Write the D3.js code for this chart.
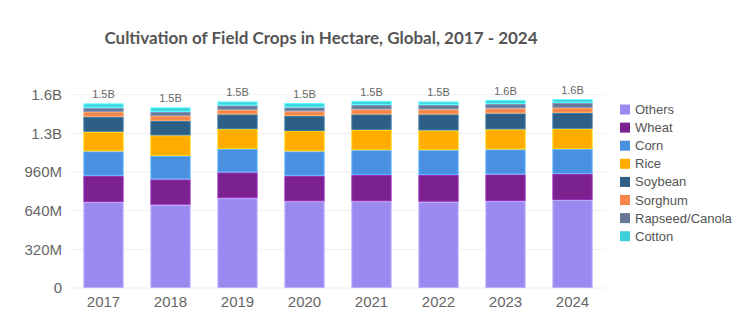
<!DOCTYPE html>
<html>
<head>
<meta charset="utf-8">
<script src="https://cdn.jsdelivr.net/npm/d3@7"></script>
<style>
  body { margin: 0; background: #fff; }
  svg text { font-family: "Liberation Sans", Arial, sans-serif; }
</style>
</head>
<body>
<div id="chart"></div>
<script>
// hectares by crop, one array per series (values in hectares)
const years = ["2017", "2018", "2019", "2020", "2021", "2022", "2023", "2024"];
const crops = ["Others", "Wheat", "Corn", "Rice", "Soybean", "Sorghum", "Rapseed/Canola", "Cotton"];
const colors = ["#9a8aef", "#7b2290", "#4a90e0", "#ffab00", "#2d5f86", "#f5844a", "#687797", "#3fd0da"];

const others   = [711e6, 689e6, 744e6, 717e6, 717e6, 714e6, 720e6, 728e6];
const wheat    = [218e6, 210e6, 213e6, 212e6, 218e6, 221e6, 220e6, 217e6];
const corn     = [202e6, 195e6, 195e6, 202e6, 206e6, 206e6, 207e6, 205e6];
const rice     = [162e6, 169e6, 163e6, 168e6, 168e6, 163e6, 166e6, 168e6];
const soybean  = [124e6, 121e6, 122e6, 126e6, 128e6, 133e6, 132e6, 132e6];
const sorghum  = [41e6, 41e6, 38e6, 37e6, 41e6, 41e6, 41e6, 41e6];
const rapeseed = [34e6, 33e6, 36e6, 33e6, 36e6, 38e6, 38e6, 42e6];
const cotton   = [36e6, 37e6, 33e6, 35e6, 35e6, 28e6, 33e6, 30e6];

const yTicks = [0, 320e6, 640e6, 960e6, 1280e6, 1600e6];
const yTickLabels = ["0", "320M", "640M", "960M", "1.3B", "1.6B"];

const series = [others, wheat, corn, rice, soybean, sorghum, rapeseed, cotton];
const table = years.map((y, i) => {
  const row = {year: y};
  crops.forEach((c, j) => row[c] = series[j][i]);
  return row;
});

const width = 746, height = 328;
const margin = {top: 94.7, right: 140, bottom: 40, left: 70};

const svg = d3.select("#chart").append("svg")
  .attr("width", width)
  .attr("height", height);

svg.append("text")
  .attr("x", 321)
  .attr("y", 44)
  .attr("text-anchor", "middle")
  .attr("font-size", 17)
  .attr("font-weight", "bold")
  .attr("fill", "#555")
  .style("font-family", "Lato, sans-serif")
  .text("Cultivation of Field Crops in Hectare, Global, 2017 - 2024");

const x = d3.scaleBand()
  .domain(years)
  .range([margin.left, 606])
  .paddingInner(0.4)
  .paddingOuter(0.2);

const y = d3.scaleLinear()
  .domain([0, 1.6e9])
  .range([288, margin.top]);

// grid
svg.append("g")
  .selectAll("line")
  .data(yTicks)
  .join("line")
  .attr("x1", margin.left)
  .attr("x2", 606)
  .attr("y1", d => y(d))
  .attr("y2", d => y(d))
  .attr("stroke", "#efefef");

// y axis
const yAxis = svg.append("g")
  .attr("transform", `translate(${margin.left},0)`)
  .call(d3.axisLeft(y).tickValues(yTicks).tickFormat((d, i) => yTickLabels[i]).tickSize(0).tickPadding(8));
yAxis.select(".domain").remove();
yAxis.selectAll("text")
  .attr("font-size", 15)
  .attr("fill", "#666")
  .style("font-family", "Liberation Sans, sans-serif");

// x axis
const xAxis = svg.append("g")
  .attr("transform", `translate(0,288)`)
  .call(d3.axisBottom(x).tickSize(0).tickPadding(8));
xAxis.select(".domain").remove();
xAxis.selectAll("text")
  .attr("font-size", 15)
  .attr("fill", "#666")
  .style("font-family", "Liberation Sans, sans-serif");

const stacked = d3.stack().keys(crops)(table);

svg.append("g")
  .selectAll("g")
  .data(stacked)
  .join("g")
  .attr("fill", (d, i) => colors[i])
  .attr("stroke", (d, i) => d3.color(colors[i]).brighter(0.6))
  .selectAll("rect")
  .data(d => d)
  .join("rect")
  .attr("x", d => x(d.data.year) + 0.5)
  .attr("y", d => y(d[1]) + 0.5)
  .attr("width", x.bandwidth() - 1)
  .attr("height", d => Math.max(0, y(d[0]) - y(d[1]) - 1))
  .attr("stroke-width", 1);

// totals
svg.append("g")
  .selectAll("text")
  .data(table)
  .join("text")
  .attr("x", d => x(d.year) + x.bandwidth() / 2)
  .attr("y", d => y(d3.sum(crops, c => d[c])) - 5)
  .attr("text-anchor", "middle")
  .attr("font-size", 11)
  .attr("fill", "#666")
  .text(d => (d3.sum(crops, c => d[c]) / 1e9).toFixed(1) + "B");

// legend
const legend = svg.append("g")
  .attr("transform", "translate(620,103)")
  .selectAll("g")
  .data(crops)
  .join("g")
  .attr("transform", (d, i) => `translate(0,${i * 18.1})`);
legend.append("rect")
  .attr("width", 10)
  .attr("height", 10)
  .attr("y", 1.5)
  .attr("fill", (d, i) => colors[i]);
legend.append("text")
  .attr("x", 15)
  .attr("y", 6.5)
  .attr("dy", "0.35em")
  .attr("font-size", 13)
  .attr("fill", "#555")
  .text(d => d);
</script>
</body>
</html>
